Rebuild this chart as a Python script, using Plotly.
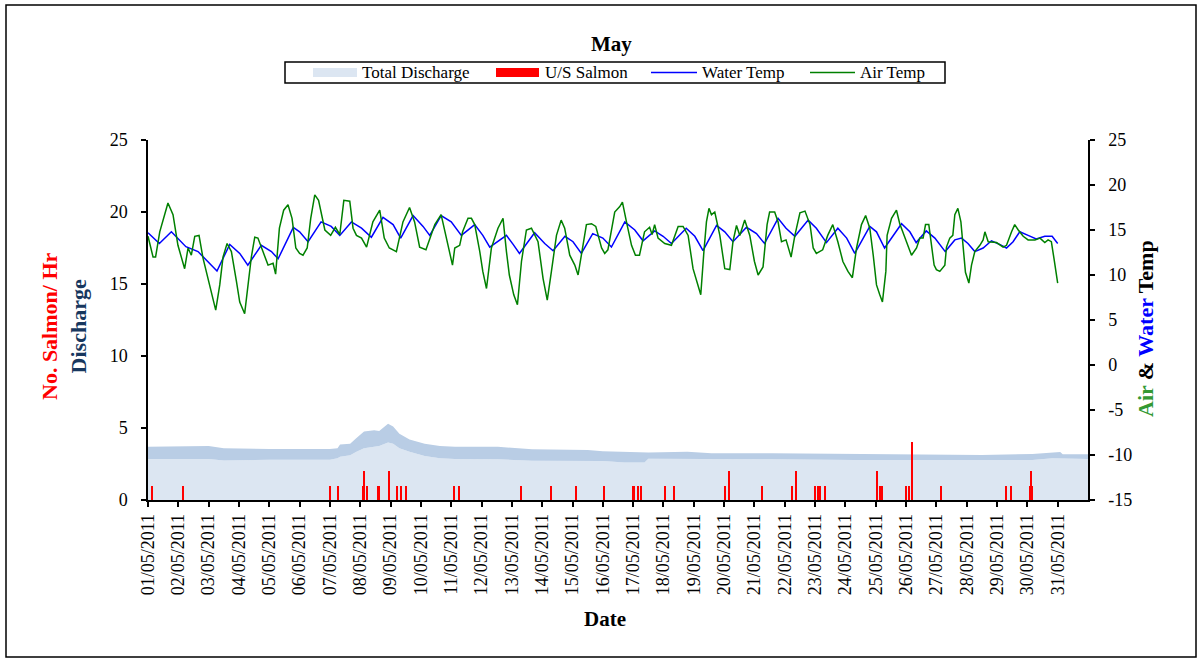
import pandas as pd
import plotly.graph_objects as go

BASE = pd.Timestamp("2011-05-01")

# ---------------- data (hours since 01/05/2011 00:00) ----------------
water_hours = [0, 9, 18.5, 30, 39.6, 54.6, 64.7, 72.6, 79, 89.7, 97.7, 103, 115, 120,
               126.7, 137, 145, 151.8, 161, 169, 176.8, 186, 194, 200, 209.8, 217.7, 223,
               232, 240, 248, 258.6, 265, 270.5, 283.7, 289, 294, 306, 314, 320.6, 330,
               336.4, 343, 352, 360, 366.8, 377.4, 385.3, 391.8, 401, 407.7, 414.3, 426,
               432.8, 439.3, 450, 456.5, 463, 473.7, 481.6, 488, 498.7, 505, 512, 522.5,
               529, 537, 546, 553, 559.4, 571.3, 576.6, 583, 596.4, 603, 608, 616, 622.8,
               631, 638.6, 643.9, 649, 654.4, 661, 667.6, 674, 679.5, 684.7, 690, 696.6,
               703, 709.8, 715.6, 720]
water_temp = [14.7, 13.5, 14.8, 13.15, 12.6, 10.45, 13.4, 12.4, 11.1, 13.3, 12.6, 11.8, 15.3, 14.8,
              13.7, 15.9, 15.4, 14.4, 15.9, 15.2, 14.2, 16.4, 15.6, 14.1, 16.6, 15.4, 14.4,
              16.6, 15.9, 14.4, 15.6, 14.4, 13.1, 14.4, 13.4, 12.4, 14.7, 13.5, 12.7, 14.3,
              13.7, 12.4, 14.6, 14.1, 13.1, 15.9, 15.0, 13.8, 14.9, 14.3, 13.5, 15.2,
              14.3, 12.7, 15.5, 14.8, 13.7, 15.3, 14.6, 13.5, 16.3, 15.2, 14.3, 16.1,
              15.2, 13.6, 15.2, 14.1, 12.4, 15.4, 14.8, 13.0, 15.7, 14.8, 13.6, 14.9, 14.1,
              12.6, 13.9, 14.1, 13.5, 12.6, 13.0, 13.8, 13.4, 13.0, 13.7, 14.8, 14.4,
              14.0, 14.3, 14.3, 13.5]

air_hours = [0, 4, 6, 9.3, 15.8, 19.8, 23.7, 26.4, 29, 31.7, 34.3, 37, 40.4, 43.5, 48.8, 53.6,
             56.8, 59.4, 62.6, 66, 70, 72.6, 76.5, 79, 81.8, 84.5, 87, 91, 95, 99, 101, 104,
             107.4, 110.8, 114, 117, 120, 122.7, 126, 128.8, 132, 135, 137.7, 140, 144.6,
             148.3, 151.8, 155, 159.7, 162.3, 165, 169, 173, 178, 183.4, 187, 191, 196.6,
             201.8, 207, 211, 215, 220, 227, 232, 237.5, 241, 242.8, 246.7, 249, 253.3, 256,
             258.6, 262.6, 265, 267.9, 271.8, 277, 281, 283.7, 286, 289.5, 292.4, 295.6,
             299.5, 303.5, 308.7, 312.7, 316, 319.3, 323.3, 327, 329.8, 333.8, 337.8, 340.4,
             344.3, 347, 351, 354.4, 359, 361.5, 364, 369.4, 373.4, 375.5, 378.7, 382.7,
             385.8, 389, 393, 397, 399, 401, 403.7, 409, 414.3, 419.6, 423.5, 427.5, 431.4,
             434.9, 437.5, 440, 442, 444, 446, 448.6, 452.6, 456.5, 460.5, 463, 465.8, 468.4,
             472.3, 476.3, 480, 482.9, 486.8, 490, 492, 496, 498.7, 501.4, 505, 509, 512,
             516, 520, 524, 526.5, 529, 534, 538, 542, 546, 550, 554, 557.5, 560.8, 564.7,
             568, 571.3, 574, 576.6, 579.2, 581.3, 584, 585, 588.5, 592.4, 595, 599, 604.3,
             608.3, 610.9, 613.5, 615.4, 618, 620, 622.2, 624, 626.7, 630.7, 632, 634.6, 637,
             638.6, 641, 643.4, 645, 647, 649.7, 651.8, 654.4, 658.4, 661, 662.4, 665, 671.6,
             676.8, 679.5, 683.5, 686, 688.8, 692.7, 696.6, 702, 706, 709.8, 712.4, 715, 717,
             720]
air_temp = [14.3, 12.0, 12.0, 14.8, 18.0, 16.7, 13.3, 12.0, 10.7, 13.0, 12.2, 14.3, 14.4, 11.9, 8.9, 6.1,
            8.9, 12.0, 13.5, 12.6, 9.3, 7.0, 5.7, 8.5, 12.0, 14.2, 14.1, 12.6, 11.1, 11.3, 10.1, 15.2,
            17.2, 17.8, 16.3, 13.0, 12.4, 12.2, 13.0, 16.3, 18.9, 18.3, 16.3, 15.0, 14.4,
            15.3, 14.5, 18.3, 18.2, 15.2, 14.4, 14.1, 13.1, 15.9, 17.2, 14.1, 13.0, 12.6,
            15.9, 17.5, 15.9, 13.1, 12.8, 15.6, 16.7, 13.3, 11.1, 13.0, 13.3, 14.8, 16.3, 16.3,
            15.6, 12.6, 10.4, 8.5, 13.0, 15.2, 16.3, 12.6, 10.0, 7.8, 6.7, 11.5,
            15.0, 15.2, 13.7, 9.6, 7.2, 10.4, 14.4, 16.1, 15.2, 12.2, 11.1, 10.0,
            13.3, 15.6, 15.7, 15.4, 13.0, 12.4, 12.8, 17.0, 17.6, 18.1, 15.9, 13.3,
            12.2, 12.2, 14.8, 15.3, 14.5, 15.6, 14.1, 13.5, 13.3, 15.4, 15.4, 14.4, 10.7,
            8.9, 7.8, 12.6, 15.9, 17.4, 16.7, 17.0, 14.4, 10.7, 10.6, 13.7, 15.5, 14.4,
            16.1, 14.4, 11.5, 10.0, 10.9, 15.6, 17.0, 17.0, 15.9, 13.7, 13.9, 12.0, 14.4,
            16.9, 17.1, 15.6, 13.0, 12.4, 12.8, 14.4, 15.6, 13.7, 11.5, 10.4, 9.7, 13.0, 15.6,
            16.6, 15.2, 12.2, 8.9, 7.8, 7.0, 10.4, 14.4, 16.3, 17.2, 15.7, 14.1, 12.2,
            13.0, 14.1, 14.1, 15.6, 15.6, 13.7, 11.1, 10.6, 10.4, 11.1, 13.1, 14.1, 14.4,
            16.7, 17.4, 15.9, 13.3, 10.3, 9.1, 11.1, 12.6, 13.3, 13.9, 14.8, 13.7, 13.6,
            13.1, 13.3, 14.8, 15.6, 15.0, 14.3, 13.9, 13.9, 14.1, 13.6, 13.9, 13.7, 11.9,
            9.1]

discharge_hours = [0, 24, 48, 60, 96, 144, 150, 152, 160, 165, 171, 179, 183, 190, 194, 199,
                   207, 219, 231, 243, 277, 304, 348, 360, 377, 393, 396, 427, 446, 494,
                   560, 620, 660, 700, 716, 722, 724, 744]
discharge_high = [3.7, 3.7, 3.75, 3.6, 3.55, 3.55, 3.6, 3.85, 3.9, 4.3, 4.75, 4.85, 4.8, 5.3, 5.1, 4.6,
                  4.2, 3.9, 3.75, 3.7, 3.7, 3.52, 3.47, 3.38, 3.35, 3.35, 3.3, 3.35, 3.24, 3.24,
                  3.2, 3.12, 3.12, 3.2, 3.33, 3.33, 3.18, 3.18]
discharge_low = [2.85, 2.85, 2.85, 2.75, 2.8, 2.8, 2.9, 3.0, 3.1, 3.35, 3.6, 3.7, 3.75, 4.0, 3.9, 3.6,
                 3.35, 3.05, 2.9, 2.85, 2.83, 2.73, 2.7, 2.7, 2.6, 2.6, 2.87, 2.87, 2.83, 2.83,
                 2.78, 2.78, 2.78, 2.78, 2.9, 2.9, 2.85, 2.85]

salmon_hours = [3, 28, 144, 150, 170, 171, 173, 182, 183, 191, 197, 200, 204, 242, 246, 295,
                319, 339, 361, 384, 385, 388, 390, 409, 416, 457, 460, 486, 510, 513, 528,
                530, 532, 536, 577, 579, 581, 600, 602, 605, 628, 679, 683, 698, 699, 700]
salmon_count = [1, 1, 1, 1, 1, 2, 1, 1, 1, 2, 1, 1, 1, 1, 1, 1,
                1, 1, 1, 1, 1, 1, 1, 1, 1, 1, 2, 1, 1, 2, 1,
                1, 1, 1, 2, 1, 1, 1, 1, 4, 1, 1, 1, 1, 2, 1]

date_labels = [f"{d:02d}/05/2011" for d in range(1, 32)]
left_ticks = [0, 5, 10, 15, 20, 25]
temp_ticks = [-15, -10, -5, 0, 5, 10, 15, 20, 25]
temp_tick_labels = ["-15", "-10", "-5", "0", "5", "10", "15", "20", "25"]
legend_labels = ["Total Discharge", "U/S Salmon", "Water Temp", "Air Temp"]

C_DISCHARGE = "#dce6f2"
C_BAND = "#b9cde5"
C_SALMON = "#ff0000"
C_WATER = "#0000ff"
C_AIR = "#008000"


def to_time(hours):
    return BASE + pd.to_timedelta(hours, unit="h")


# plot area in pixels: x 148..1088, y 140..500
def px(x):
    return (x - 148) / 940.0


def py(y):
    return (500 - y) / 360.0


FONT = "Liberation Serif, Times New Roman, serif"

fig = go.Figure()

fig.add_trace(go.Scatter(
    x=to_time(discharge_hours), y=discharge_low, name=legend_labels[0],
    mode="lines", line=dict(width=0, color=C_DISCHARGE), fill="tozeroy",
    fillcolor=C_DISCHARGE, yaxis="y", hoverinfo="skip"))
fig.add_trace(go.Scatter(
    x=to_time(discharge_hours), y=discharge_high, name="Total Discharge (range)",
    mode="lines", line=dict(width=0, color=C_BAND), fill="tonexty",
    fillcolor=C_BAND, yaxis="y", hoverinfo="skip"))

fig.add_trace(go.Bar(
    x=to_time(salmon_hours), y=salmon_count, name=legend_labels[1],
    marker=dict(color=C_SALMON, line=dict(width=0)), width=3600000 * 1.6,
    yaxis="y3"))

fig.add_trace(go.Scatter(
    x=to_time(water_hours), y=water_temp, name=legend_labels[2], mode="lines",
    line=dict(color=C_WATER, width=1.5), yaxis="y2"))
fig.add_trace(go.Scatter(
    x=to_time(air_hours), y=air_temp, name=legend_labels[3], mode="lines",
    line=dict(color=C_AIR, width=1.5), yaxis="y2"))

axis_common = dict(showgrid=False, zeroline=False, showline=True, linecolor="black",
                   linewidth=1.5, ticks="outside", ticklen=5, tickcolor="black",
                   tickwidth=1.5, tickfont=dict(family=FONT, size=18, color="black"))

day_ticks = [BASE + pd.Timedelta(days=i) for i in range(31)]

fig.update_layout(
    width=1202, height=662, autosize=False,
    margin=dict(l=148, r=114, t=140, b=162, pad=0),
    paper_bgcolor="white", plot_bgcolor="white",
    font=dict(family=FONT, color="black"),
    bargap=0,
    showlegend=False,
    xaxis=dict(type="date", range=[BASE, BASE + pd.Timedelta(days=31)],
               tickvals=day_ticks, ticktext=date_labels, tickangle=-90, **axis_common),
    yaxis=dict(range=[0, 25], tickvals=left_ticks, ticktext=[str(v) for v in left_ticks],
               ticklabelstandoff=10, **axis_common),
    yaxis2=dict(range=[-15, 25], tickvals=temp_ticks, ticktext=temp_tick_labels,
                overlaying="y", side="right", ticklabelstandoff=10, **axis_common),
    yaxis3=dict(range=[0, 25], overlaying="y", visible=False),
)

# titles
fig.add_annotation(text="<b>May</b>", x=px(611), y=py(44), xref="paper", yref="paper",
                   xanchor="center", yanchor="middle", showarrow=False,
                   font=dict(family=FONT, size=21, color="black"))
fig.add_annotation(text="<b>Date</b>", x=px(605), y=py(619), xref="paper", yref="paper",
                   xanchor="center", yanchor="middle", showarrow=False,
                   font=dict(family=FONT, size=21, color="black"))
fig.add_annotation(
    text='<b><span style="color:#ff0000">No. Salmon/ Hr</span><br>'
         '<span style="color:#17375e">Discharge</span></b>',
    x=px(64), y=py(326), xref="paper", yref="paper", xanchor="center", yanchor="middle",
    textangle=-90, showarrow=False, font=dict(family=FONT, size=22))
fig.add_annotation(
    text='<b><span style="color:#339933">Air</span> &amp; '
         '<span style="color:#0000ff">Water</span> Temp</b>',
    x=px(1145), y=py(329), xref="paper", yref="paper", xanchor="center", yanchor="middle",
    textangle=-90, showarrow=False, font=dict(family=FONT, size=22, color="black"))

# legend (drawn by hand to match the compact boxed legend)
fig.add_shape(type="rect", xref="paper", yref="paper", x0=px(285), x1=px(945),
              y0=py(83), y1=py(62), line=dict(color="black", width=1.5), fillcolor="white")
fig.add_shape(type="rect", xref="paper", yref="paper", x0=px(313), x1=px(357),
              y0=py(77), y1=py(68), line=dict(width=0), fillcolor=C_DISCHARGE)
fig.add_shape(type="rect", xref="paper", yref="paper", x0=px(496), x1=px(539),
              y0=py(77), y1=py(68), line=dict(width=0), fillcolor=C_SALMON)
fig.add_shape(type="line", xref="paper", yref="paper", x0=px(651), x1=px(697),
              y0=py(72.5), y1=py(72.5), line=dict(color=C_WATER, width=1.5))
fig.add_shape(type="line", xref="paper", yref="paper", x0=px(810), x1=px(855),
              y0=py(72.5), y1=py(72.5), line=dict(color=C_AIR, width=1.5))
for label, xl in zip(legend_labels, [360, 543, 700, 858]):
    fig.add_annotation(text=label, x=px(xl), y=py(72.5), xref="paper", yref="paper",
                       xanchor="left", yanchor="middle", showarrow=False,
                       font=dict(family=FONT, size=17, color="black"))

# outer chart border
fig.add_shape(type="rect", xref="paper", yref="paper", x0=px(6), x1=px(1196),
              y0=py(657), y1=py(5), line=dict(color="black", width=1.5),
              fillcolor="rgba(0,0,0,0)", layer="below")

fig.write_html("out.html")
